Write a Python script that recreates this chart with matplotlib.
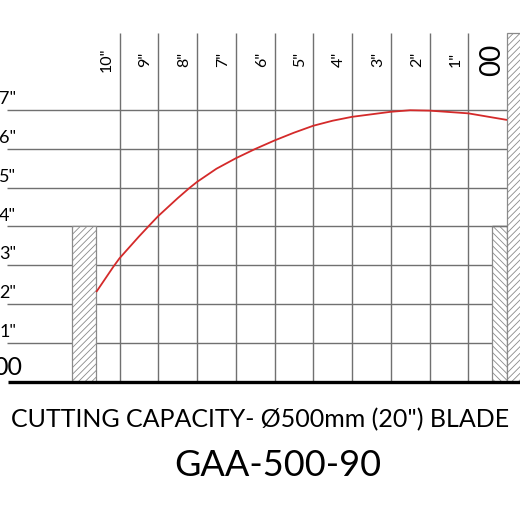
import matplotlib
matplotlib.use("Agg")
import matplotlib.pyplot as plt
from matplotlib.patches import Rectangle

# ---- data ----
x_ticks = [10, 9, 8, 7, 6, 5, 4, 3, 2, 1]          # inches from the fence (00)
x_labels = ['10"', '9"', '8"', '7"', '6"', '5"', '4"', '3"', '2"', '1"']
y_ticks = [1, 2, 3, 4, 5, 6, 7]
y_labels = ['1"', '2"', '3"', '4"', '5"', '6"', '7"']
zero_label = "00"

# cutting capacity curve (distance from fence, height) in inches
curve_d = [10.6, 10.16, 10.0, 9.5, 9.21, 9.0, 8.5, 8.2, 8.0, 7.5, 7.0, 6.5, 6.0, 5.5, 5.0, 4.5, 4.0, 3.0, 2.5, 2.0, 1.0, 0.0]
curve_h = [2.31, 2.96, 3.18, 3.74, 4.05, 4.27, 4.73, 4.99, 5.15, 5.49, 5.76, 6.0, 6.22, 6.42, 6.6, 6.73, 6.83, 6.96, 7.0, 6.99, 6.92, 6.75]

left_block = (10.61, 11.23, 4.0)    # d from, d to, height
right_block = (0.0, 0.38, 4.0)
wall_height = 9.0
grid_top = 9.0
grid_left = 12.9

subtitle = 'CUTTING CAPACITY- Ø500mm (20") BLADE'
title = "GAA-500-90"

FONT = "Lato"
plt.rcParams["hatch.linewidth"] = 0.6

fig = plt.figure(figsize=(5.2, 5.2), dpi=100)
ax = fig.add_axes([0, 0, 1, 1])
ax.set_xlim(13.084, -0.335)
ax.set_ylim(-3.574, 9.845)
ax.axis("off")

grid_c = "#707070"
# vertical grid lines
ax.vlines(x_ticks, 0, grid_top, colors=grid_c, lw=1.0, zorder=1)
# horizontal grid lines
ax.hlines(y_ticks, 0, grid_left, colors=grid_c, lw=1.0, zorder=1)

# blocks
hatch_c = "#8a8a8a"
ax.add_patch(Rectangle((left_block[0], 0), left_block[1] - left_block[0], left_block[2],
                       facecolor="white", edgecolor=hatch_c, hatch="/////", lw=0.9, zorder=3))
ax.add_patch(Rectangle((right_block[0], 0), right_block[1] - right_block[0], right_block[2],
                       facecolor="white", edgecolor=hatch_c, hatch="\\\\\\\\\\", lw=0.9, zorder=3))
ax.add_patch(Rectangle((-0.6, 0), 0.6, wall_height,
                       facecolor="white", edgecolor=hatch_c, hatch="/////", lw=0.9, zorder=3))
# redraw the 4" line over the block tops
ax.hlines([4], [right_block[0]], [right_block[1]], colors=grid_c, lw=1.0, zorder=4)

# baseline
ax.hlines([0], -0.6, 12.88, colors="black", lw=2.4, zorder=5)

# curve
ax.plot(curve_d, curve_h, color="#d42a2a", lw=1.3, zorder=6, solid_capstyle="butt",
        solid_joinstyle="round")

# top labels
for d, lab in zip(x_ticks, x_labels):
    ax.text(d + 0.33, 8.3, lab, rotation=90, ha="center", va="center",
            fontsize=11.5, family=FONT, color="black")
ax.text(0.39, 8.3, zero_label, rotation=90, ha="center", va="center",
        fontsize=20, family=FONT, color="black")

# left labels
for h, lab in zip(y_ticks, y_labels):
    ax.text(12.67, h + 0.15, lab, ha="right", va="baseline",
            fontsize=13, family=FONT, color="black")
ax.text(12.52, 0.17, zero_label, ha="right", va="baseline",
        fontsize=18, family=FONT, color="black")

fig.text(0.5, 1 - 420 / 520, subtitle, ha="center", va="center",
         fontsize=18, family=FONT, color="black")
fig.text(0.534, 1 - 465 / 520, title, ha="center", va="center",
         fontsize=26, family=FONT, color="black")

fig.savefig("out.png", dpi=100)
